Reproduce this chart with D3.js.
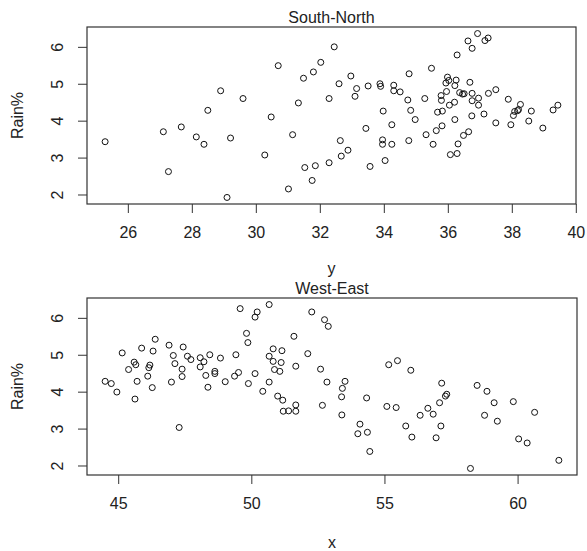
<!DOCTYPE html>
<html>
<head>
<meta charset="utf-8">
<script src="https://cdnjs.cloudflare.com/ajax/libs/d3/7.8.5/d3.min.js"></script>
<style>
  body { margin: 0; background: #fff; }
  svg text { font-family: "Liberation Sans", Arial, sans-serif; fill: #222; }
</style>
</head>
<body>
<svg width="587" height="551"></svg>
<script>
// South-North: y coordinate vs rain %
var snY = [25.29, 27.11, 27.27, 27.67, 28.14, 28.38, 28.50, 28.90, 29.21, 29.10,
    29.60, 30.28, 30.48, 30.70, 31.02, 31.15, 31.33,
    31.49, 31.80, 32.03, 32.45, 32.29, 32.60, 32.97, 33.15, 33.10, 33.51,
    33.88, 33.90, 34.31, 34.31, 34.51, 34.79, 34.75, 34.84, 34.98, 35.28,
    35.49, 33.98, 33.44, 34.25, 32.64, 32.88, 32.67, 32.29, 31.86, 31.53,
    31.76, 33.57, 34.04, 33.96, 33.96, 34.25, 34.78, 35.32, 35.54, 35.64,
    35.82, 35.68, 35.83, 35.79, 35.80, 35.96, 35.99, 36.03, 35.94, 36.26,
    36.22, 36.21, 36.05, 36.22, 36.37, 36.46, 36.51, 36.69, 36.76, 36.76,
    36.96, 36.96, 36.75, 37.13, 37.27, 37.50, 37.50, 36.65, 36.49, 36.32,
    36.29, 36.08, 36.29, 36.63, 36.76, 36.93, 37.16, 37.26, 37.89, 37.97,
    38.05, 38.09, 38.18, 38.21, 38.27, 38.53, 38.61, 38.97, 39.29, 39.44];
var snRain = [3.43, 3.70, 2.62, 3.83, 3.56, 3.36, 4.28, 4.81, 3.53, 1.92,
    4.60, 3.07, 4.10, 5.49, 2.15, 3.62, 4.48,
    5.15, 5.32, 5.58, 6.00, 4.60, 5.00, 5.21, 4.87, 4.66, 4.94,
    5.00, 4.93, 4.96, 4.81, 4.78, 5.27, 4.56, 4.28, 4.03, 4.60,
    5.42, 4.26, 3.79, 3.89, 3.46, 3.20, 3.04, 2.86, 2.78, 2.73,
    2.38, 2.76, 2.92, 3.48, 3.36, 3.36, 3.46, 3.62, 3.36, 3.73,
    3.86, 4.23, 4.26, 4.68, 4.55, 4.79, 5.18, 5.09, 5.02, 5.10,
    4.95, 4.50, 4.42, 4.03, 4.76, 4.72, 4.73, 5.04, 4.74, 4.54,
    4.61, 4.42, 4.13, 4.18, 4.74, 4.84, 3.94, 3.70, 3.60, 3.37,
    3.11, 3.08, 5.78, 6.16, 5.96, 6.36, 6.17, 6.24, 4.58, 3.89,
    4.14, 4.25, 4.27, 4.30, 4.44, 3.99, 4.26, 3.80, 4.29, 4.42];

// West-East: x coordinate vs rain %
var weX = [44.51, 44.74, 44.95, 45.15, 45.39, 45.60, 45.66, 45.71, 45.63, 45.88,
    46.11, 46.15, 46.19, 46.28, 46.31, 46.39, 46.91, 47.00, 47.07, 47.13,
    47.29, 47.40, 47.40, 47.44, 47.60, 47.73, 48.08, 48.08, 48.22, 48.29,
    48.37, 48.44, 48.63, 48.63, 48.84, 49.02, 49.42, 49.37, 49.52, 49.58,
    49.82, 49.87, 49.89, 50.14, 50.22, 50.14, 50.43, 50.67, 50.67, 50.67,
    50.82, 50.82, 50.87, 50.99, 51.15, 51.12, 51.07, 51.18, 51.20, 51.40,
    51.60, 51.67, 51.67, 51.67,
    52.12, 52.27, 52.75, 52.89, 52.60, 52.84, 52.67, 53.40, 53.39, 53.42,
    53.52, 54.33, 54.08, 54.00, 54.36, 54.45, 55.09, 55.16, 55.49, 55.44,
    55.80, 55.99, 56.03, 56.34, 56.63, 56.83, 56.94, 57.07, 57.12, 57.15,
    57.29, 57.34, 58.23, 58.48, 58.76, 58.85, 59.12, 59.24, 59.84, 60.04,
    60.36, 60.64, 61.55];
var weRain = [4.28, 4.22, 3.99, 5.05, 4.60, 4.80, 4.73, 4.28, 3.80, 5.18,
    4.42, 4.65, 4.72, 4.11, 5.10, 5.42, 5.26, 4.26, 4.98, 4.76,
    3.03, 4.61, 4.41, 5.21, 4.96, 4.87, 4.92, 4.67, 4.81, 4.44,
    4.12, 5.00, 4.55, 4.49, 4.91, 4.27, 5.00, 4.42, 4.52, 6.25,
    5.58, 5.33, 4.22, 6.02, 6.16, 4.49, 4.01, 6.36, 4.96, 4.26,
    5.16, 4.82, 4.60, 3.88, 5.11, 4.79, 4.55, 3.77, 3.47, 3.48,
    5.50, 4.69, 3.64, 3.47,
    5.03, 6.16, 5.95, 5.77, 4.61, 4.26, 3.63, 3.37, 3.86, 4.09,
    4.28, 3.83, 3.12, 2.86, 2.90, 2.38, 3.60, 4.73, 4.84, 3.57,
    3.07, 4.58, 2.77, 3.36, 3.55, 3.39, 2.75, 3.70, 3.07, 4.23,
    3.88, 3.93, 1.92, 4.17, 3.36, 4.01, 3.70, 3.20, 3.73, 2.72,
    2.61, 3.44, 2.14];

var snTicks = [26, 28, 30, 32, 34, 36, 38, 40];
var weTicks = [45, 50, 55, 60];
var rainTicks = [2, 3, 4, 5, 6];

var svg = d3.select("svg");

// R style range: data extent padded by 4% on each side
function padded(values) {
    var ext = d3.extent(values);
    var pad = (ext[1] - ext[0]) * 0.04;
    return [ext[0] - pad, ext[1] + pad];
}

function drawPanel(p) {
    var g = svg.append("g").attr("transform", "translate(" + p.left + "," + p.top + ")");
    var w = p.width, h = p.height;

    var x = d3.scaleLinear().domain(padded(p.xs)).range([0, w]);
    var y = d3.scaleLinear().domain(padded(p.ys)).range([h, 0]);

    // x axis
    var xa = g.append("g")
        .attr("transform", "translate(0," + h + ")")
        .call(d3.axisBottom(x).tickValues(p.xTicks).tickSize(9).tickFormat(d3.format("d")));
    xa.select(".domain").remove();
    xa.selectAll("line").attr("stroke", "#333");
    xa.selectAll("text")
        .attr("y", 34).attr("dy", null)
        .style("font-size", "16px");

    // y axis, labels parallel to the axis
    var ya = g.append("g")
        .call(d3.axisLeft(y).tickValues(rainTicks).tickSize(9).tickFormat(d3.format("d")));
    ya.select(".domain").remove();
    ya.selectAll("line").attr("stroke", "#333");
    ya.selectAll("text")
        .attr("x", null).attr("dy", null)
        .attr("transform", "translate(-24,0) rotate(-90)")
        .attr("text-anchor", "middle")
        .style("font-size", "16px");

    // frame
    g.append("rect")
        .attr("width", w).attr("height", h)
        .attr("fill", "none")
        .attr("stroke", "#333")
        .attr("stroke-width", 1.2);

    // points
    g.selectAll("circle").data(p.xs)
        .enter().append("circle")
        .attr("cx", function(d) { return x(d); })
        .attr("cy", function(d, i) { return y(p.ys[i]); })
        .attr("r", 3)
        .attr("fill", "none")
        .attr("stroke", "#111")
        .attr("stroke-width", 1);

    // title
    g.append("text")
        .attr("x", w / 2).attr("y", -4)
        .attr("text-anchor", "middle")
        .style("font-size", "16px")
        .text(p.title);

    // axis titles
    g.append("text")
        .attr("x", w / 2).attr("y", h + p.xlabGap)
        .attr("text-anchor", "middle")
        .style("font-size", "16px")
        .text(p.xlab);

    g.append("text")
        .attr("transform", "translate(" + (-64) + "," + (h / 2) + ") rotate(-90)")
        .attr("text-anchor", "middle")
        .style("font-size", "16px")
        .text("Rain%");
}

drawPanel({ left: 87, top: 27, width: 489, height: 177, xs: snY, ys: snRain,
    xTicks: snTicks, title: "South-North", xlab: "y", xlabGap: 70 });
drawPanel({ left: 87, top: 298, width: 490, height: 177, xs: weX, ys: weRain,
    xTicks: weTicks, title: "West-East", xlab: "x", xlabGap: 73 });
</script>
</body>
</html>
